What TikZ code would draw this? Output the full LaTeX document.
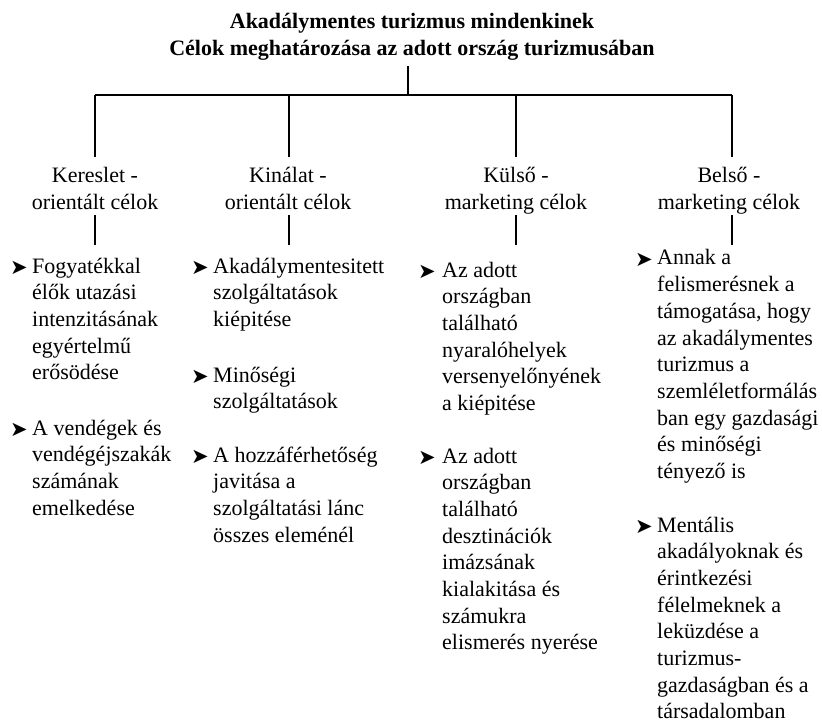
\documentclass[tikz,border=0pt]{standalone}
\usepackage{fontspec}
\setmainfont{Liberation Serif}
\newfontfamily\dingfont{DejaVu Sans}
% stacked lines whose baseline is the first line
\newcommand{\stackL}[1]{\begin{tabular}[t]{@{}l@{}}#1\end{tabular}}
\newcommand{\stackC}[1]{\begin{tabular}[t]{@{}c@{}}#1\end{tabular}}
\begin{document}
\begin{tikzpicture}[x=1pt,y=-1pt,
  txt/.style={font=\fontsize{22}{26.7}\selectfont, inner sep=0pt, anchor=base west},
  ttl/.style={font=\bfseries\fontsize{22}{27}\selectfont, inner sep=0pt, anchor=base},
  cat/.style={font=\fontsize{22}{27}\selectfont, inner sep=0pt, anchor=base},
  bul/.style={font=\dingfont\fontsize{21}{21}\selectfont, inner sep=0pt, anchor=base west},
  tree/.style={line width=1.4pt, black}]
\useasboundingbox (0,0) rectangle (822,722);

% title
\node[ttl] (title) at (412,29) {\stackC{Akadálymentes turizmus mindenkinek\\Célok meghatározása az adott ország turizmusában}};

% junctions on the horizontal bar
\coordinate (hub) at (408,95);
\coordinate (j1) at (95,95);
\coordinate (j2) at (289,95);
\coordinate (j3) at (516,95);
\coordinate (j4) at (732,95);

% category headings
\node[cat] (c1) at (95,183) {\stackC{Kereslet -\\orientált célok}};
\node[cat] (c2) at (288,183) {\stackC{Kinálat -\\orientált célok}};
\node[cat] (c3) at (516,183) {\stackC{Külső -\\marketing célok}};
\node[cat] (c4) at (729,183) {\stackC{Belső -\\marketing célok}};

% lower ends of the short stems
\coordinate (k1) at (95,245);
\coordinate (k2) at (289,245);
\coordinate (k3) at (516,245);
\coordinate (k4) at (732,245);

% tree lines
\draw[tree, shorten <=2pt] (title.south -| hub) -- (hub);
\draw[tree] (j1) -- (j4);
\draw[tree, shorten >=7pt] (j1) -- (j1 |- c1.north);
\draw[tree, shorten >=7pt] (j2) -- (j2 |- c2.north);
\draw[tree, shorten >=7pt] (j3) -- (j3 |- c3.north);
\draw[tree, shorten >=7pt] (j4) -- (j4 |- c4.north);
\draw[tree, shorten <=-3pt] (k1 |- c1.south) -- (k1);
\draw[tree, shorten <=-3pt] (k2 |- c2.south) -- (k2);
\draw[tree, shorten <=-3pt] (k3 |- c3.south) -- (k3);
\draw[tree, shorten <=-3pt] (k4 |- c4.south) -- (k4);

% column 1
\node[bul] (b11) at (10,274) {➤};
\node[txt] (i11) at (32,273) {\stackL{Fogyatékkal\\élők utazási\\intenzitásának\\egyértelmű\\erősödése}};
\node[bul] (b12) at (10,436) {➤};
\node[txt] (i12) at (32,435) {\stackL{A vendégek és\\vendégéjszakák\\számának\\emelkedése}};

% column 2
\node[bul] (b21) at (191,274) {➤};
\node[txt] (i21) at (213,273) {\stackL{Akadálymentesitett\\szolgáltatások\\kiépitése}};
\node[bul] (b22) at (191,383) {➤};
\node[txt] (i22) at (213,382) {\stackL{Minőségi\\szolgáltatások}};
\node[bul] (b23) at (191,463) {➤};
\node[txt] (i23) at (213,462) {\stackL{A hozzáférhetőség\\javitása a\\szolgáltatási lánc\\összes eleménél}};

% column 3
\node[bul] (b31) at (418,278) {➤};
\node[txt] (i31) at (442,277) {\stackL{Az adott\\országban\\található\\nyaralóhelyek\\versenyelőnyének\\a kiépitése}};
\node[bul] (b32) at (418,464) {➤};
\node[txt] (i32) at (442,463) {\stackL{Az adott\\országban\\található\\desztinációk\\imázsának\\kialakitása és\\számukra\\elismerés nyerése}};

% column 4
\node[bul] (b41) at (635,266) {➤};
\node[txt] (i41) at (657,265) {\stackL{Annak a\\felismerésnek a\\támogatása, hogy\\az akadálymentes\\turizmus a\\szemléletformálás\\ban egy gazdasági\\és minőségi\\tényező is}};
\node[bul] (b42) at (635,533) {➤};
\node[txt] (i42) at (657,532) {\stackL{Mentális\\akadályoknak és\\érintkezési\\félelmeknek a\\leküzdése a\\turizmus-\\gazdaságban és a\\társadalomban}};
\end{tikzpicture}
\end{document}
